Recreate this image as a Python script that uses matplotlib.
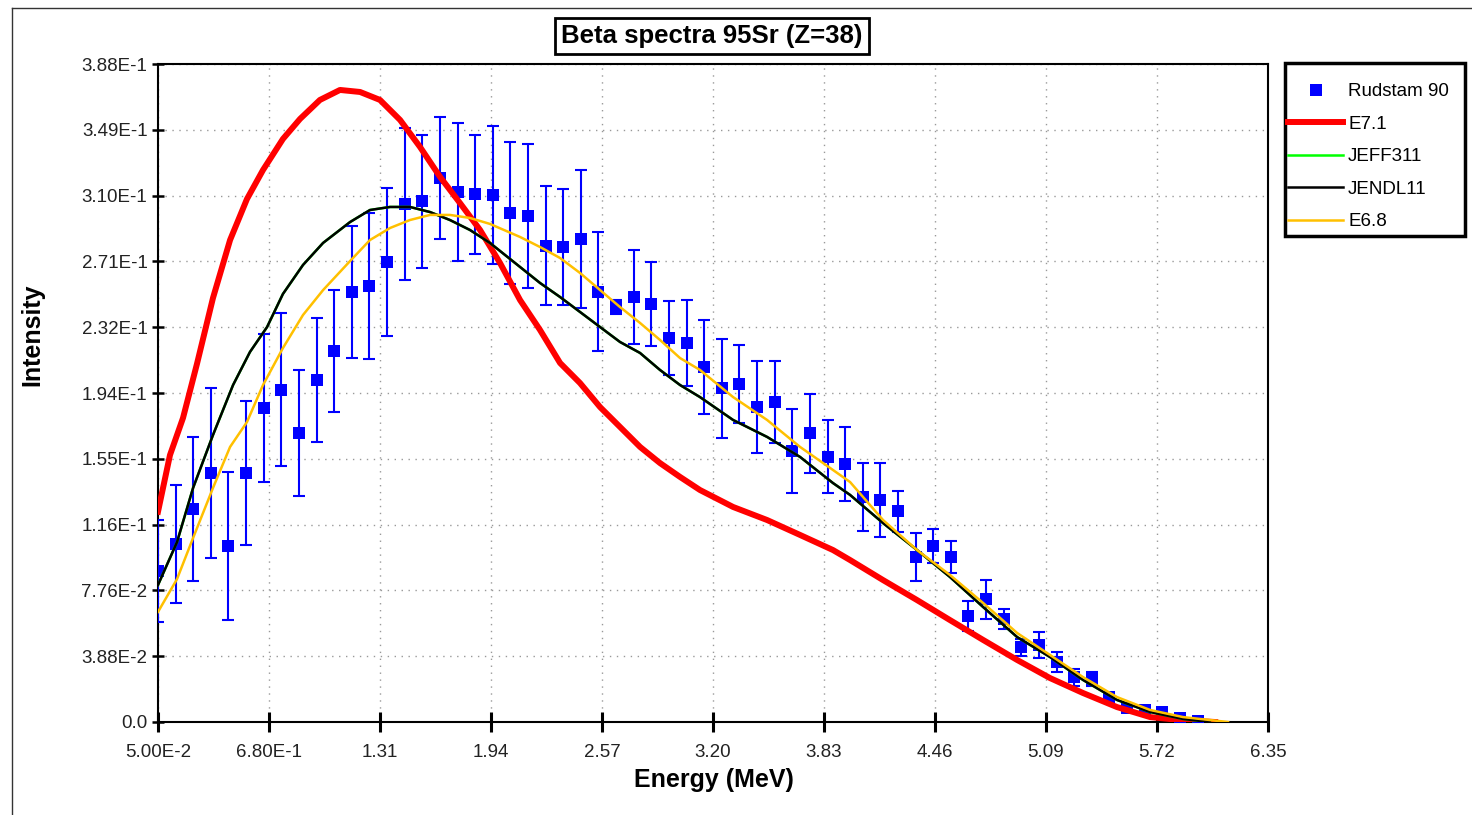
import matplotlib
matplotlib.use('Agg')
import matplotlib.pyplot as plt
from matplotlib.lines import Line2D
from matplotlib.patches import Rectangle

plt.rcParams['font.family'] = ['Liberation Sans', 'DejaVu Sans']

# --- Rudstam 90 measured points (MeV, intensity, half error) ---
rud_e = [0.05, 0.15, 0.25, 0.35, 0.45, 0.55, 0.65, 0.75, 0.85, 0.95,
         1.05, 1.15, 1.25, 1.35, 1.45, 1.55, 1.65, 1.75, 1.85, 1.95,
         2.05, 2.15, 2.25, 2.35, 2.45, 2.55, 2.65, 2.75, 2.85, 2.95,
         3.05, 3.15, 3.25, 3.35, 3.45, 3.55, 3.65, 3.75, 3.85, 3.95,
         4.05, 4.15, 4.25, 4.35, 4.45, 4.55, 4.65, 4.75, 4.85, 4.95,
         5.05, 5.15, 5.25, 5.35, 5.45, 5.55, 5.65, 5.75, 5.85, 5.95]
rud_y = [0.0890, 0.1050, 0.1256, 0.1468, 0.1038, 0.1468, 0.1852, 0.1958, 0.1704, 0.2017,
         0.2188, 0.2536, 0.2571, 0.2712, 0.3055, 0.3072, 0.3208, 0.3125, 0.3113, 0.3108,
         0.3001, 0.2984, 0.2807, 0.2801, 0.2848, 0.2536, 0.2447, 0.2506, 0.2465, 0.2264,
         0.2235, 0.2093, 0.1969, 0.1993, 0.1857, 0.1887, 0.1598, 0.1704, 0.1563, 0.1521,
         0.1327, 0.1309, 0.1244, 0.0973, 0.1038, 0.0973, 0.0625, 0.0725, 0.0607, 0.0442,
         0.0454, 0.0354, 0.0265, 0.0254, 0.0147, 0.0083, 0.0071, 0.0059, 0.0024, 0.0006]
rud_err = [0.0300, 0.0348, 0.0422, 0.0501, 0.0437, 0.0422, 0.0437, 0.0451, 0.0374, 0.0366,
           0.0360, 0.0387, 0.0428, 0.0434, 0.0448, 0.0392, 0.0357, 0.0407, 0.0351, 0.0407,
           0.0419, 0.0425, 0.0351, 0.0342, 0.0407, 0.0351, 0.0040, 0.0280, 0.0245, 0.0219,
           0.0251, 0.0277, 0.0292, 0.0230, 0.0272, 0.0239, 0.0248, 0.0233, 0.0215, 0.0216,
           0.0198, 0.0221, 0.0121, 0.0142, 0.0103, 0.0097, 0.0086, 0.0115, 0.0059, 0.0050,
           0.0077, 0.0060, 0.0050, 0.0040, 0.0020, 0.0020, 0.0020, 0.0010, 0.0010, 0.0010]

# --- E7.1 ---
e71_e = [0.05, 0.118, 0.192, 0.271, 0.362, 0.459, 0.555, 0.646, 0.759, 0.856,
         0.969, 1.083, 1.197, 1.310, 1.424, 1.537, 1.651, 1.764, 1.878, 1.991,
         2.105, 2.218, 2.332, 2.445, 2.559, 2.672, 2.786, 2.899, 3.013, 3.126,
         3.314, 3.507, 3.694, 3.881, 3.978, 4.165, 4.358, 4.545, 4.733, 4.926,
         5.113, 5.300, 5.493, 5.681, 5.868, 6.05]
e71_y = [0.1240, 0.1574, 0.1793, 0.2111, 0.2500, 0.2842, 0.3084, 0.3255, 0.3438, 0.3556,
         0.3668, 0.3727, 0.3715, 0.3668, 0.3550, 0.3391, 0.3214, 0.3060, 0.2901, 0.2707,
         0.2488, 0.2312, 0.2117, 0.1999, 0.1857, 0.1740, 0.1622, 0.1527, 0.1445, 0.1368,
         0.1268, 0.1191, 0.1103, 0.1014, 0.0955, 0.0837, 0.0719, 0.0601, 0.0484, 0.0366,
         0.0259, 0.0171, 0.0088, 0.0029, 0.0010, 0.0000]

# --- JENDL11 (JEFF311 lies underneath it) ---
jendl_e = [0.05, 0.158, 0.249, 0.362, 0.476, 0.572, 0.669, 0.759, 0.873, 0.987,
           1.140, 1.253, 1.367, 1.480, 1.594, 1.707, 1.821, 1.934, 2.105, 2.218,
           2.332, 2.445, 2.559, 2.672, 2.786, 2.899, 3.013, 3.126, 3.314, 3.507,
           3.694, 3.881, 3.978, 4.165, 4.358, 4.545, 4.733, 4.926, 5.113, 5.300,
           5.493, 5.681, 5.868, 6.02]
jendl_y = [0.0808, 0.1061, 0.1380, 0.1692, 0.1987, 0.2182, 0.2329, 0.2524, 0.2695, 0.2825,
           0.2948, 0.3019, 0.3037, 0.3037, 0.3007, 0.2960, 0.2901, 0.2825, 0.2683, 0.2589,
           0.2506, 0.2418, 0.2329, 0.2241, 0.2176, 0.2076, 0.1987, 0.1916, 0.1781, 0.1681,
           0.1563, 0.1409, 0.1339, 0.1173, 0.1014, 0.0855, 0.0678, 0.0501, 0.0383, 0.0248,
           0.0130, 0.0059, 0.0018, 0.0000]
jeff_e = jendl_e
jeff_y = jendl_y

# --- E6.8 ---
e68_e = [0.05, 0.158, 0.249, 0.362, 0.459, 0.555, 0.646, 0.759, 0.873, 0.987,
         1.140, 1.253, 1.367, 1.480, 1.594, 1.707, 1.821, 1.934, 2.105, 2.218,
         2.332, 2.445, 2.559, 2.672, 2.786, 2.899, 3.013, 3.126, 3.314, 3.507,
         3.694, 3.881, 3.978, 4.165, 4.358, 4.545, 4.733, 4.926, 5.113, 5.300,
         5.493, 5.681, 5.868, 6.123]
e68_y = [0.0649, 0.0843, 0.1085, 0.1380, 0.1622, 0.1769, 0.1987, 0.2205, 0.2400, 0.2547,
         0.2718, 0.2842, 0.2913, 0.2960, 0.2990, 0.2990, 0.2972, 0.2937, 0.2860, 0.2801,
         0.2736, 0.2648, 0.2547, 0.2447, 0.2353, 0.2253, 0.2146, 0.2076, 0.1916, 0.1781,
         0.1622, 0.1486, 0.1415, 0.1191, 0.1014, 0.0867, 0.0702, 0.0525, 0.0395, 0.0265,
         0.0147, 0.0071, 0.0029, 0.0000]

x_ticks = [0.05, 0.68, 1.31, 1.94, 2.57, 3.20, 3.83, 4.46, 5.09, 5.72, 6.35]
x_labels = ['5.00E-2', '6.80E-1', '1.31', '1.94', '2.57', '3.20', '3.83', '4.46', '5.09', '5.72', '6.35']
y_ticks = [0, 0.0388, 0.0776, 0.1164, 0.1552, 0.194, 0.2328, 0.2716, 0.3104, 0.3492, 0.388]
y_labels = ['0.0', '3.88E-2', '7.76E-2', '1.16E-1', '1.55E-1', '1.94E-1', '2.32E-1',
            '2.71E-1', '3.10E-1', '3.49E-1', '3.88E-1']

W, H = 1472, 815
fig = plt.figure(figsize=(W / 100, H / 100), dpi=100)
ax = fig.add_axes([158 / W, 1 - 722 / H, 1110 / W, 658 / H])

# error bars with caps, then the square markers
ax.errorbar(rud_e, rud_y, yerr=rud_err, fmt='none', ecolor='#0000ff',
            elinewidth=1.5, capsize=4, capthick=1.5, zorder=3)
ax.plot(rud_e, rud_y, ls='none', marker='s', ms=9, mew=0, color='#0000ff', zorder=3)
ax.plot(e71_e, e71_y, color='#ff0000', lw=4.3, zorder=4)
ax.plot(jeff_e, jeff_y, color='#00ff00', lw=1.8, zorder=5)
ax.plot(jendl_e, jendl_y, color='black', lw=1.8, zorder=6)
ax.plot(e68_e, e68_y, color='#ffc000', lw=1.8, zorder=7)

ax.set_xlim(0.05, 6.35)
ax.set_ylim(0, 0.388)
ax.set_xticks(x_ticks)
ax.set_xticklabels(x_labels, fontsize=13.5)
ax.set_yticks(y_ticks)
ax.set_yticklabels(y_labels, fontsize=13.5)
ax.tick_params(axis='x', direction='inout', length=14, width=2.2, pad=8.5, colors='black')
ax.tick_params(axis='y', direction='inout', length=8, width=1.8, pad=3.5, colors='black')
for lab in ax.get_xticklabels() + ax.get_yticklabels():
    lab.set_color('#222222')
ax.grid(True, color='#999999', lw=1.0, ls=(0, (1, 4)))
for s in ax.spines.values():
    s.set_linewidth(1.5)
    s.set_color('black')

fig.text(712 / W, 1 - 36 / H, 'Beta spectra 95Sr (Z=38)', ha='center', va='center',
         fontsize=18.5, fontweight='bold',
         bbox=dict(boxstyle='square,pad=0.25', fc='white', ec='black', lw=2))
fig.text(714 / W, 1 - 780 / H, 'Energy (MeV)', ha='center', va='center',
         fontsize=18, fontweight='bold')
fig.text(32 / W, 1 - 335 / H, 'Intensity', ha='center', va='center', rotation=90,
         fontsize=18, fontweight='bold')

handles = [Line2D([], [], ls='none', marker='s', ms=9, mew=0, color='#0000ff'),
           Line2D([], [], color='#ff0000', lw=4.3),
           Line2D([], [], color='#00ff00', lw=1.8),
           Line2D([], [], color='black', lw=1.8),
           Line2D([], [], color='#ffc000', lw=1.8)]
labels = ['Rudstam 90', 'E7.1', 'JEFF311', 'JENDL11', 'E6.8']
fig.legend(handles, labels, loc='upper left', bbox_to_anchor=(1288 / W, 1 - 83 / H),
           frameon=False, fontsize=13.5, handlelength=2.95, handletextpad=0.25,
           labelspacing=0.82, borderpad=0, borderaxespad=0)
# legend frame
fig.add_artist(Rectangle((1285 / W, 1 - 236 / H), 180 / W, 173 / H, transform=fig.transFigure,
                         fill=False, ec='black', lw=2.5))

# outer chart frame
fig.add_artist(Line2D([12 / W, 12 / W], [0, 1 - 8 / H], transform=fig.transFigure,
                      color='#333333', lw=1))
fig.add_artist(Line2D([12 / W, 1], [1 - 8 / H, 1 - 8 / H], transform=fig.transFigure,
                      color='#333333', lw=1))

fig.savefig('out.png', dpi=100)
